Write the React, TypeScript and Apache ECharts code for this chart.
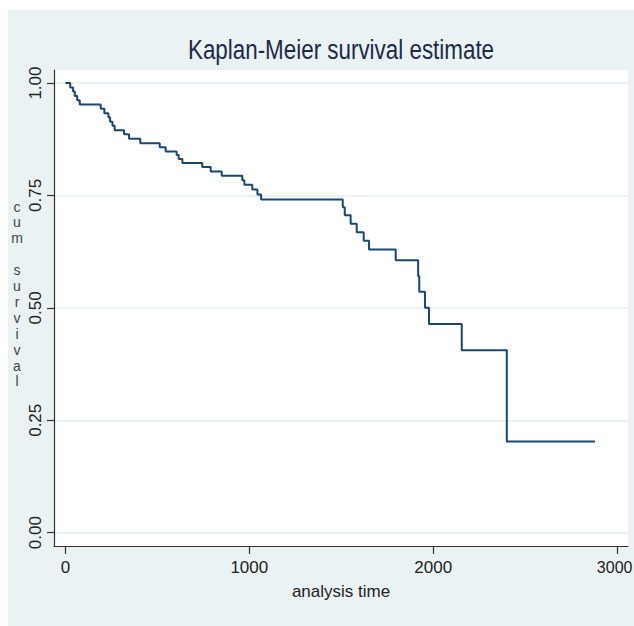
import React, { useEffect, useRef } from "react";
import * as echarts from "echarts";

const times = [0, 26, 42, 51, 64, 78, 192, 212, 234, 243, 256, 268, 319, 346, 407, 513, 545, 605, 616, 636, 744, 790, 850, 962, 973, 1016, 1044, 1064, 1508, 1519, 1551, 1584, 1622, 1651, 1796, 1918, 1924, 1955, 1977, 2155, 2400, 2880];
const survival = [1.0, 0.99, 0.981, 0.971, 0.962, 0.952, 0.943, 0.933, 0.924, 0.914, 0.905, 0.895, 0.886, 0.876, 0.866, 0.857, 0.848, 0.84, 0.831, 0.822, 0.813, 0.803, 0.794, 0.784, 0.774, 0.763, 0.752, 0.741, 0.724, 0.706, 0.687, 0.668, 0.649, 0.63, 0.606, 0.571, 0.536, 0.5, 0.464, 0.406, 0.203, 0.203];
const xTicks = [0, 1000, 2000, 3000];
const yTicks = [0, 0.25, 0.5, 0.75, 1.0];

const TITLE = "Kaplan-Meier survival estimate";
const X_NAME = "analysis time";
const Y_NAME = "c\nu\nm\n\ns\nu\nr\nv\ni\nv\na\nl";

const FONT = "'Liberation Sans', Arial, sans-serif";

export default function App() {
  const ref = useRef<HTMLDivElement>(null);
  useEffect(() => {
    if (!ref.current) return;
    const chart = echarts.init(ref.current, null, { renderer: "svg" });
    const data = times.map((t, i) => [t, survival[i]]);
    const lastTick = xTicks[xTicks.length - 1];
    chart.setOption({
      animation: false,
      backgroundColor: "#eaf2f3",
      graphic: [
        {
          type: "text",
          x: 333,
          y: 39,
          scaleX: 0.8,
          style: {
            text: TITLE,
            fill: "#1c2a48",
            fontSize: 28,
            fontFamily: FONT,
            textAlign: "center",
            textVerticalAlign: "middle",
          },
        },
        {
          type: "text",
          x: 9,
          y: 284,
          style: {
            text: Y_NAME,
            fill: "#444",
            fontSize: 14,
            fontFamily: FONT,
            lineHeight: 15.9,
            textAlign: "center",
            textVerticalAlign: "middle",
          },
        },
      ],
      grid: {
        left: 46,
        top: 60,
        right: 6,
        bottom: 80,
        show: true,
        backgroundColor: "#ffffff",
        borderWidth: 0,
        containLabel: false,
        outerBoundsMode: "none",
      },
      xAxis: {
        type: "value",
        min: -62,
        max: 3059,
        name: X_NAME,
        nameLocation: "middle",
        nameGap: 37,
        nameTextStyle: { fontSize: 17, fontFamily: FONT, color: "#222" },
        axisLine: { show: true, onZero: false, lineStyle: { color: "#333", width: 1.2 } },
        axisTick: { show: true, length: 8, customValues: xTicks, lineStyle: { color: "#333", width: 1.2 } },
        axisLabel: {
          customValues: xTicks,
          fontSize: 17,
          fontFamily: FONT,
          color: "#222",
          margin: 13,
          formatter: (v: number) => (v === lastTick ? "{last|" + v + "}" : String(v)),
          rich: {
            last: {
              fontSize: 16,
              fontFamily: FONT,
              color: "#222",
              padding: [0, 5, 0, 0],
            },
          },
        },
        splitLine: { show: false },
      },
      yAxis: {
        type: "value",
        min: -0.0296,
        max: 1.029,
        axisLine: { show: true, onZero: false, lineStyle: { color: "#333", width: 1.2 } },
        axisTick: { show: true, length: 7, customValues: yTicks, lineStyle: { color: "#333", width: 1.2 } },
        axisLabel: {
          customValues: yTicks,
          rotate: 90,
          fontSize: 17,
          fontFamily: FONT,
          color: "#222",
          margin: 10,
          formatter: (v: number) => v.toFixed(2),
        },
        splitLine: { show: true, lineStyle: { color: "#eaf2f3", width: 2 } },
      },
      series: [
        {
          type: "line",
          step: "end",
          data,
          showSymbol: false,
          symbol: "none",
          lineStyle: { color: "#1a476f", width: 2 },
        },
      ],
    });
    return () => chart.dispose();
  }, []);
  return (
    <div
      ref={ref}
      style={{ position: "fixed", left: 8, top: 10, width: 626, height: 616 }}
    />
  );
}
